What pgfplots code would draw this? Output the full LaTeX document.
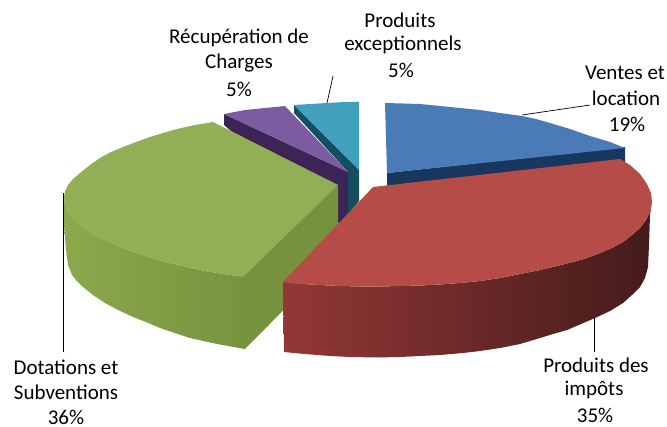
\documentclass[border=0pt]{standalone}
\usepackage{pgfplots}
\pgfplotsset{compat=1.18}
\usepackage{fontspec}
\setmainfont{Carlito}
\definecolor{bluetop}{HTML}{4A7BB7}
\definecolor{blueside}{HTML}{17375E}
\definecolor{redtop}{HTML}{B64C48}
\definecolor{redl}{HTML}{923836}
\definecolor{redm}{HTML}{642625}
\definecolor{redr}{HTML}{441B1B}
\definecolor{greentop}{HTML}{93AF55}
\definecolor{greenl}{HTML}{8CA94D}
\definecolor{greenr}{HTML}{76933E}
\definecolor{greencut}{HTML}{76923C}
\definecolor{purpletop}{HTML}{7C5BA0}
\definecolor{purpleside}{HTML}{3B2557}
\definecolor{tealtop}{HTML}{41A0BC}
\definecolor{tealside}{HTML}{134F5E}
\begin{document}
\begin{tikzpicture}
\begin{axis}[
  width=667bp,height=427bp,scale only axis,
  xmin=0,xmax=667,ymin=0,ymax=427,y dir=reverse,
  hide axis,clip=false]
\path (axis cs:0,0) rectangle (axis cs:667,427);
% blue slice: Ventes et location 19%
\addplot[draw=none,fill=blueside] coordinates {(387,173)(625,147)(625,162)(387,188)} --cycle;
\addplot[draw=none,fill=bluetop] coordinates {(385,103)(420,104)(440,106)(460,108)(480,110)(500,113)(522,116)(536,119)(550,123)(570,129)(590,136)(610,142)(625,148)(387,173)} --cycle;
% teal slice: Produits exceptionnels 5%
\addplot[draw=none,fill=tealside] coordinates {(294,105)(294,113)(348,172)(348,215)(359,201)(359,170)} --cycle;
\addplot[draw=none,fill=tealtop] coordinates {(294,105)(310,104)(327,103)(345,102)(359,102)(359,170)} --cycle;
% purple slice: Recuperation de Charges 5%
\addplot[draw=none,fill=purpleside] coordinates {(224,114)(348,172)(348,215)(341,225)(224,125)} --cycle;
\addplot[draw=none,fill=purpletop] coordinates {(224,114)(245,110)(265,108)(285,106)(348,172)} --cycle;
% green slice: Dotations et Subventions 36%
\addplot[draw=none,fill=greencut] coordinates {(238,275)(338,185)(338,255)(245,349)(238,342)} --cycle;
\addplot[draw=none,left color=greenl,right color=greenr] coordinates {(64,197)(65,205)(68,212)(73,219)(80,225)(90,232)(100,238)(110,242)(125,249)(140,254)(155,259)(170,263)(187,267)(205,271)(224,274)(243,277)(245,349)(217,344)(190,338)(175,333)(160,328)(146,322)(133,317)(118,310)(105,303)(93,295)(83,287)(76,280)(72,275)(68,265)(66,250)(64,225)} --cycle;
\addplot[draw=none,fill=greentop] coordinates {(338,185)(213,122)(195,125)(177,129)(163,133)(150,137)(136,142)(123,147)(111,152)(100,158)(90,165)(80,173)(73,179)(68,185)(65,191)(64,197)(65,205)(68,212)(73,219)(80,225)(90,232)(100,238)(110,242)(125,249)(140,254)(155,259)(170,263)(187,267)(205,271)(224,274)(243,277)} --cycle;
% red slice: Produits des impots 35%
\addplot[draw=none,left color=redl,middle color=redm,right color=redr] coordinates {(283,282)(300,284)(320,285)(340,286)(360,286.5)(380,286.5)(400,286)(420,285.5)(440,284.5)(460,283)(480,281)(500,278)(520,274)(540,270)(557,266)(573,262)(587,258)(600,253)(612,248)(623,242)(632,235)(640,228)(646,220)(650,212)(652,202)(650,215)(649,245)(648,267)(645,278)(640,287)(632,295)(623,303)(610,311)(595,318)(581,324)(567,330)(553,334)(540,338)(520,344)(500,348)(480,351)(463,353)(440,355)(420,356)(400,357)(377,357.5)(350,357)(330,356)(305,354)(284,352)} --cycle;
\addplot[draw=none,fill=redtop] coordinates {(373,187)(620,159)(630,165)(640,174)(647,184)(651,193)(652,202)(650,212)(646,220)(640,228)(632,235)(623,242)(612,248)(600,253)(587,258)(573,262)(557,266)(540,270)(520,274)(500,278)(480,281)(460,283)(440,284.5)(420,285.5)(400,286)(380,286.5)(360,286.5)(340,286)(320,285)(300,284)(283,282)} --cycle;
% leader lines
\addplot[black,line width=0.7bp] coordinates {(327,103)(333,76)};
\addplot[black,line width=0.7bp] coordinates {(522,115)(590,105)};
\addplot[black,line width=0.7bp] coordinates {(594,318)(594,352)};
\addplot[black,line width=0.7bp] coordinates {(63,193)(63,352)};
% labels
\def\fs{\fontsize{21bp}{24bp}\selectfont}
\node[font=\fs,inner sep=0pt] at (axis cs:400,20) {Produits};
\node[font=\fs,inner sep=0pt] at (axis cs:403,45) {exceptionnels};
\node[font=\fs,inner sep=0pt] at (axis cs:401,70) {5\%};
\node[font=\fs,inner sep=0pt] at (axis cs:239,38) {Récupération de};
\node[font=\fs,inner sep=0pt] at (axis cs:239,63) {Charges};
\node[font=\fs,inner sep=0pt] at (axis cs:239,89) {5\%};
\node[font=\fs,inner sep=0pt] at (axis cs:625,73) {Ventes et};
\node[font=\fs,inner sep=0pt] at (axis cs:626,98) {location};
\node[font=\fs,inner sep=0pt] at (axis cs:627,124) {19\%};
\node[font=\fs,inner sep=0pt] at (axis cs:596,365) {Produits des};
\node[font=\fs,inner sep=0pt] at (axis cs:594,390) {impôts};
\node[font=\fs,inner sep=0pt] at (axis cs:595,415) {35\%};
\node[font=\fs,inner sep=0pt] at (axis cs:66,367) {Dotations et};
\node[font=\fs,inner sep=0pt] at (axis cs:66,392) {Subventions};
\node[font=\fs,inner sep=0pt] at (axis cs:66,417) {36\%};
\end{axis}
\end{tikzpicture}
\end{document}
